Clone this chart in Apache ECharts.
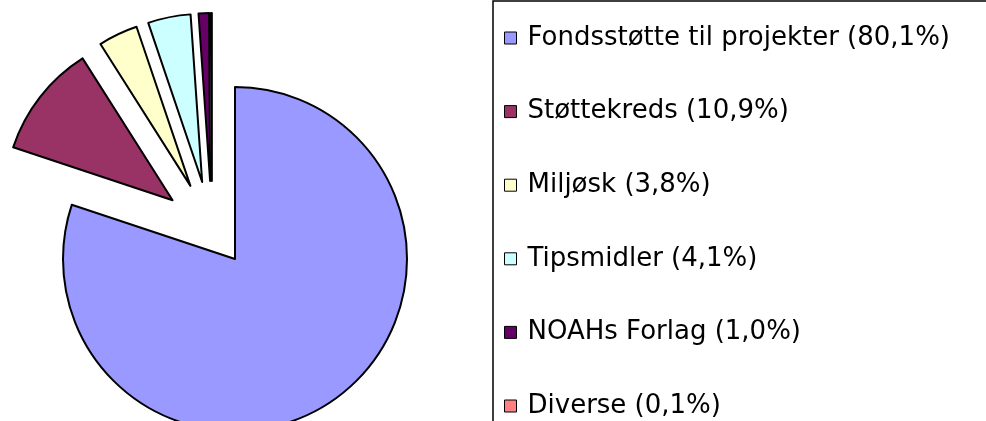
<!DOCTYPE html>
<html>
<head>
<meta charset="utf-8">
<script src="https://cdn.jsdelivr.net/npm/echarts@6/dist/echarts.min.js"></script>
<style>html,body{margin:0;padding:0;background:#fff;}#c{width:986px;height:421px;}</style>
</head>
<body>
<div id="c"></div>
<script>
const categories = ['Fondsstøtte til projekter', 'Støttekreds', 'Miljøsk', 'Tipsmidler', 'NOAHs Forlag', 'Diverse'];
const values = [80.1, 10.9, 3.8, 4.1, 1.0, 0.1];
const labels = ['80,1%', '10,9%', '3,8%', '4,1%', '1,0%', '0,1%'];
const colors = ['#9999FF', '#993366', '#FFFFCC', '#CCFFFF', '#660066', '#FF8080'];
const exploded = [false, true, true, true, true, true];

const chart = echarts.init(document.getElementById('c'), null, {renderer: 'canvas'});

function buildData(showExploded) {
  return categories.map((name, i) => {
    const visible = exploded[i] === showExploded;
    return {
      name: name,
      value: values[i],
      selected: exploded[i] && showExploded,
      itemStyle: visible
        ? {color: colors[i], borderColor: '#000', borderWidth: 2}
        : {color: 'rgba(0,0,0,0)', borderWidth: 0, borderColor: 'rgba(0,0,0,0)'}
    };
  });
}

const common = {
  type: 'pie',
  startAngle: 90,
  clockwise: true,
  minAngle: 0,
  avoidLabelOverlap: false,
  selectedMode: 'multiple',
  label: {show: false},
  labelLine: {show: false},
  emphasis: {disabled: true, scale: false},
  silent: true
};

chart.setOption({
  animation: false,
  backgroundColor: '#fff',
  graphic: [{
    type: 'rect',
    shape: {x: 493, y: 1, width: 700, height: 600},
    style: {fill: 'none', stroke: '#000', lineWidth: 1.5},
    silent: true
  }],
  legend: {
    orient: 'vertical',
    left: 504,
    top: 24.5,
    padding: 0,
    selectedMode: false,
    itemWidth: 12,
    itemHeight: 12,
    itemGap: 46.6,
    icon: 'rect',
    textStyle: {
      fontFamily: 'DejaVu Sans',
      fontSize: 26,
      color: '#000',
      lineHeight: 27,
      padding: [0, 0, 0, 6]
    },
    formatter: function (name) {
      const i = categories.indexOf(name);
      return name + ' (' + labels[i] + ')';
    },
    data: categories.map((name, i) => ({
      name: name,
      itemStyle: {color: colors[i], borderColor: '#000', borderWidth: 1}
    }))
  },
  series: [
    Object.assign({}, common, {
      name: 'main',
      center: [235, 259],
      radius: 172,
      selectedOffset: 0,
      data: buildData(false)
    }),
    Object.assign({}, common, {
      name: 'exploded',
      center: [212, 231],
      radius: 168,
      selectedOffset: 50,
      data: buildData(true)
    })
  ]
});
</script>
</body>
</html>
